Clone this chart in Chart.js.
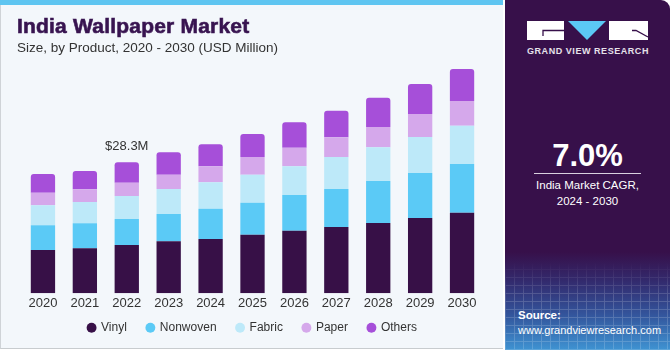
<!DOCTYPE html>
<html>
<head>
<meta charset="utf-8">
<script src="https://cdn.jsdelivr.net/npm/chart.js@4/dist/chart.umd.min.js"></script>
<style>
  html,body{margin:0;padding:0;}
  body{width:670px;height:350px;overflow:hidden;position:relative;background:#ffffff;font-family:"Liberation Sans",Arial,sans-serif;}
  #left{position:absolute;left:0;top:0;width:503px;height:349px;background:#f3f7fb;border-left:1px solid #cfd3d7;border-bottom:1px solid #c8cccf;box-sizing:border-box;}
  #stripe{position:absolute;left:0;top:0;width:503px;height:5px;background:#5ec5f1;}
  #title{position:absolute;left:17px;top:14px;font-size:21px;font-weight:bold;color:#381450;-webkit-text-stroke:0.6px #381450;letter-spacing:0.2px;white-space:nowrap;}
  #subtitle{position:absolute;left:17px;top:40px;font-size:13.5px;color:#333;white-space:nowrap;}
  #chartbox{position:absolute;left:0;top:0;width:505px;height:350px;}
  #right{position:absolute;left:505px;top:0;width:165px;height:350px;border-top-right-radius:9px;overflow:hidden;
    background:linear-gradient(to bottom,#37104a 0%,#37104a 72%,#33296c 80%,#33559c 90%,#3f93d2 100%);}
  #grid{position:absolute;left:0;top:262px;width:165px;height:88px;opacity:0.18;
    background-image:repeating-linear-gradient(0deg,rgba(255,255,255,0.9) 0 1px,transparent 1px 8px),repeating-linear-gradient(90deg,rgba(255,255,255,0.9) 0 1px,transparent 1px 9px);
    -webkit-mask-image:linear-gradient(to bottom,transparent,black 40%);}
  #logo{position:absolute;left:0;top:0;}
  #gvrtext{position:absolute;left:22px;top:46px;width:121px;text-align:center;font-size:9px;font-weight:bold;color:#e6e2ea;letter-spacing:0.55px;white-space:nowrap;}
  #cagr{position:absolute;left:0;top:138px;width:165px;text-align:center;font-size:31px;font-weight:bold;color:#fff;}
  #rule{position:absolute;left:29px;top:173px;width:107px;height:1px;background:#d9d0df;}
  #cagrtxt{position:absolute;left:0;top:177px;width:165px;text-align:center;font-size:11.5px;line-height:16px;color:#fff;}
  #src{position:absolute;left:13px;top:308px;font-size:11px;line-height:14.5px;color:#fff;white-space:nowrap;}
  #src b{font-size:11.5px;}
</style>
</head>
<body>
<div id="left"></div>
<div id="stripe"></div>
<div id="chartbox"><canvas id="c" width="505" height="350"></canvas></div>
<div id="title">India Wallpaper Market</div>
<div id="subtitle">Size, by Product, 2020 - 2030 (USD Million)</div>
<div id="right">
  <div id="grid"></div>
  <svg id="logo" width="165" height="60" viewBox="0 0 165 60">
    <rect x="22" y="21" width="37" height="19" fill="#ffffff"/>
    <path d="M38 36 V30.5 H59" stroke="#37104a" stroke-width="1.3" fill="none"/>
    <polygon points="63,21 101,21 82,40" fill="#5bc8f5"/>
    <rect x="104" y="21" width="39" height="19" fill="#ffffff"/>
    <path d="M127 30.5 H131 L143 37" stroke="#37104a" stroke-width="1.3" fill="none"/>
  </svg>
  <div id="gvrtext">GRAND VIEW RESEARCH</div>
  <div id="cagr">7.0%</div>
  <div id="rule"></div>
  <div id="cagrtxt">India Market CAGR,<br>2024 - 2030</div>
  <div id="src"><b>Source:</b><br>www.grandviewresearch.com</div>
</div>
<script>
const years = ["2020","2021","2022","2023","2024","2025","2026","2027","2028","2029","2030"];
const vinyl    = [9.35, 9.72, 10.43, 11.23, 11.73, 12.66, 13.52, 14.32, 15.18, 16.26, 17.41];
const nonwoven = [5.33, 5.40, 5.62, 5.90, 6.54, 6.91, 7.71, 8.21, 9.07, 9.72, 10.52];
const fabric   = [4.32, 4.60, 4.97, 5.40, 5.70, 6.05, 6.20, 6.91, 7.28, 7.78, 8.27];
const paper    = [2.72, 2.74, 2.87, 3.09, 3.46, 3.82, 4.02, 4.25, 4.38, 4.97, 5.33];
const others   = [4.04, 3.95, 4.41, 4.84, 4.75, 4.97, 5.49, 5.75, 6.33, 6.48, 6.91];
const seriesNames = ["Vinyl","Nonwoven","Fabric","Paper","Others"];
const seriesColors = ["#371047","#5bcaf6","#bde9f9","#d5a8eb","#a64fd9"];
const annotatedIndex = 2;
const annotationText = "$28.3M";

const seriesData = [vinyl, nonwoven, fabric, paper, others];
const datasets = seriesData.map((d, i) => ({
  label: seriesNames[i],
  data: d,
  backgroundColor: seriesColors[i],
  borderWidth: 0,
  borderSkipped: false,
  borderRadius: i === seriesData.length - 1 ? {topLeft: 3, topRight: 3, bottomLeft: 0, bottomRight: 0} : 0,
  categoryPercentage: 1,
  barPercentage: 0.58
}));

const labelPlugin = {
  id: 'totalLabel',
  afterDatasetsDraw(chart) {
    const meta = chart.getDatasetMeta(chart.data.datasets.length - 1);
    const bar = meta.data[annotatedIndex];
    const ctx = chart.ctx;
    ctx.save();
    ctx.font = '13px "Liberation Sans", Arial, sans-serif';
    ctx.fillStyle = '#333333';
    ctx.textAlign = 'center';
    ctx.textBaseline = 'middle';
    ctx.fillText(annotationText, bar.x, bar.y - 16);
    ctx.restore();
  }
};

// pull the legend row up closer to the axis labels (legend padding also sets item spacing)
const legendShift = {
  id: 'legendShift',
  afterLayout(chart) {
    const lg = chart.legend;
    const target = 327.7;                 // desired text centre
    const current = lg.top + 20 + 6;      // padding + itemHeight/2
    const d = current - target;
    lg.top -= d; lg.bottom -= d;
  }
};

new Chart(document.getElementById('c'), {
  type: 'bar',
  data: { labels: years, datasets },
  options: {
    responsive: false,
    devicePixelRatio: 1,
    animation: false,
    layout: { padding: { left: 22, right: 22, top: 60, bottom: 0 } },
    plugins: {
      legend: {
        position: 'bottom',
        labels: {
          usePointStyle: true,
          pointStyle: 'circle',
          boxWidth: 7,
          boxHeight: 7,
          padding: 20,
          color: '#333333',
          font: { family: '"Liberation Sans", Arial, sans-serif', size: 12 }
        }
      },
      tooltip: { enabled: false }
    },
    scales: {
      x: {
        stacked: true,
        grid: { display: false, drawTicks: false },
        border: { display: false },
        ticks: { color: '#333333', padding: 2, font: { family: '"Liberation Sans", Arial, sans-serif', size: 13 } },
        afterFit(s) { s.height = 350 - 42 - 293.3; }
      },
      y: {
        stacked: true,
        display: false,
        min: 0,
        max: 50.4
      }
    }
  },
  plugins: [labelPlugin, legendShift]
});
</script>
</body>
</html>
